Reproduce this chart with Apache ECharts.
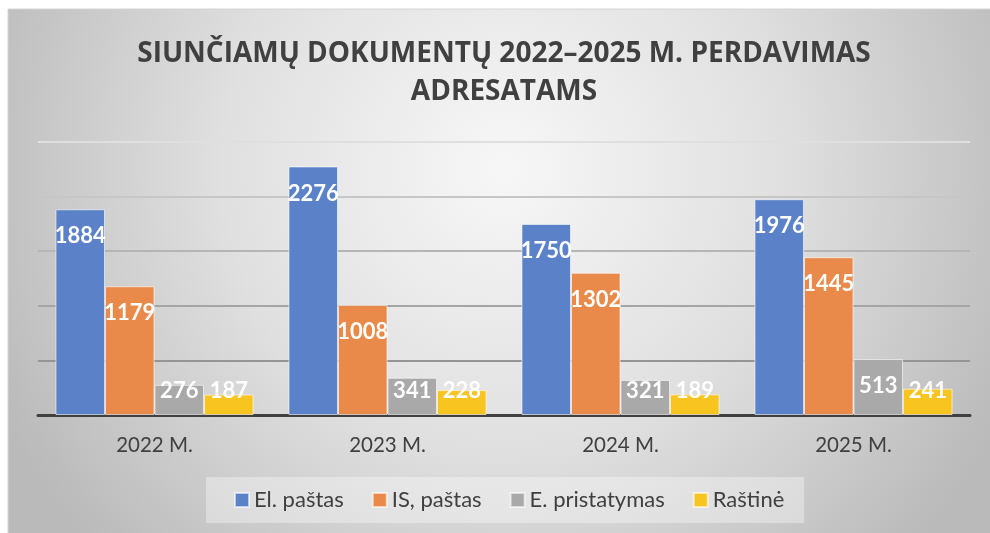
<!DOCTYPE html>
<html>
<head>
<meta charset="utf-8">
<style>
html,body{margin:0;padding:0;background:#fff;}
#chart{width:990px;height:533px;}
</style>
<script src="https://cdn.jsdelivr.net/npm/echarts@6/dist/echarts.min.js"></script>
</head>
<body>
<div id="chart"></div>
<script>
const categories = ['2022 M.', '2023 M.', '2024 M.', '2025 M.'];
const seriesNames = ['El. paštas', 'IS, paštas', 'E. pristatymas', 'Raštinė'];
const elPastas = [1884, 2276, 1750, 1976];
const isPastas = [1179, 1008, 1302, 1445];
const ePristatymas = [276, 341, 321, 513];
const rastine = [187, 228, 189, 241];
const titleText = 'SIUNČIAMŲ DOKUMENTŲ 2022–2025 M. PERDAVIMAS\nADRESATAMS';

const colors = ['#5b82c9', '#ea8a4a', '#a9a9a9', '#f8c41f'];
const allValues = [elPastas, isPastas, ePristatymas, rastine];

const gridTop = 142, gridBottom = 118, axisMax = 2500;
const gridH = 533 - gridTop - gridBottom;
const pxPerUnit = gridH / axisMax;

function makeData(vals) {
  return vals.map(v => {
    const h = v * pxPerUnit;
    const off = h >= 50 ? 27 : h - 24;
    return { value: v, label: { position: ['50%', off] } };
  });
}

const chart = echarts.init(document.getElementById('chart'));
chart.setOption({
  backgroundColor: '#ffffff',
  animation: false,
  graphic: [{
    type: 'rect',
    z: -10,
    shape: { x: 8, y: 9, width: 990, height: 530 },
    style: {
      fill: new echarts.graphic.RadialGradient(0.5, 0.3, 1.05, [
        { offset: 0, color: '#f7f7f7' },
        { offset: 0.5, color: '#e0e0e0' },
        { offset: 1, color: '#bababa' }
      ]),
      stroke: '#d4d4d4',
      lineWidth: 1
    }
  }],
  title: {
    text: titleText,
    left: 499,
    top: 30,
    textAlign: 'center',
    textStyle: {
      fontFamily: 'Open Sans',
      fontWeight: 'bold',
      fontSize: 28,
      lineHeight: 38,
      color: '#404040'
    }
  },
  legend: {
    data: seriesNames,
    left: 206,
    top: 477,
    itemWidth: 14,
    itemHeight: 14,
    itemGap: 28,
    icon: 'rect',
    backgroundColor: 'rgba(255,255,255,0.35)',
    padding: [12, 20, 12, 28],
    textStyle: { fontFamily: 'Lato', fontSize: 22, color: '#404040' }
  },
  grid: { left: 38, right: 20, top: gridTop, bottom: gridBottom, containLabel: false },
  xAxis: {
    type: 'category',
    data: categories,
    axisLine: { show: true, lineStyle: { color: '#404040', width: 3 } },
    axisTick: { show: false },
    axisLabel: { fontFamily: 'Lato', fontSize: 20.5, color: '#404040', margin: 20 }
  },
  yAxis: {
    type: 'value',
    min: 0,
    max: axisMax,
    interval: 500,
    axisLabel: { show: false },
    axisLine: { show: false },
    axisTick: { show: false },
    splitLine: {
      show: true,
      lineStyle: { width: 2, color: ['#959595', '#959595', '#a5a5a5', '#b5b5b5', '#c6c6c6', '#dfdfdf'] }
    }
  },
  series: allValues.map((vals, i) => ({
    name: seriesNames[i],
    type: 'bar',
    data: makeData(vals),
    barGap: '0%',
    barCategoryGap: '15%',
    itemStyle: { color: colors[i], borderColor: 'rgba(255,255,255,0.6)', borderWidth: 1 },
    label: {
      show: true,
      align: 'center',
      verticalAlign: 'middle',
      fontFamily: 'Lato',
      fontWeight: 'bold',
      fontSize: 22,
      color: '#ffffff'
    }
  }))
});
</script>
</body>
</html>
